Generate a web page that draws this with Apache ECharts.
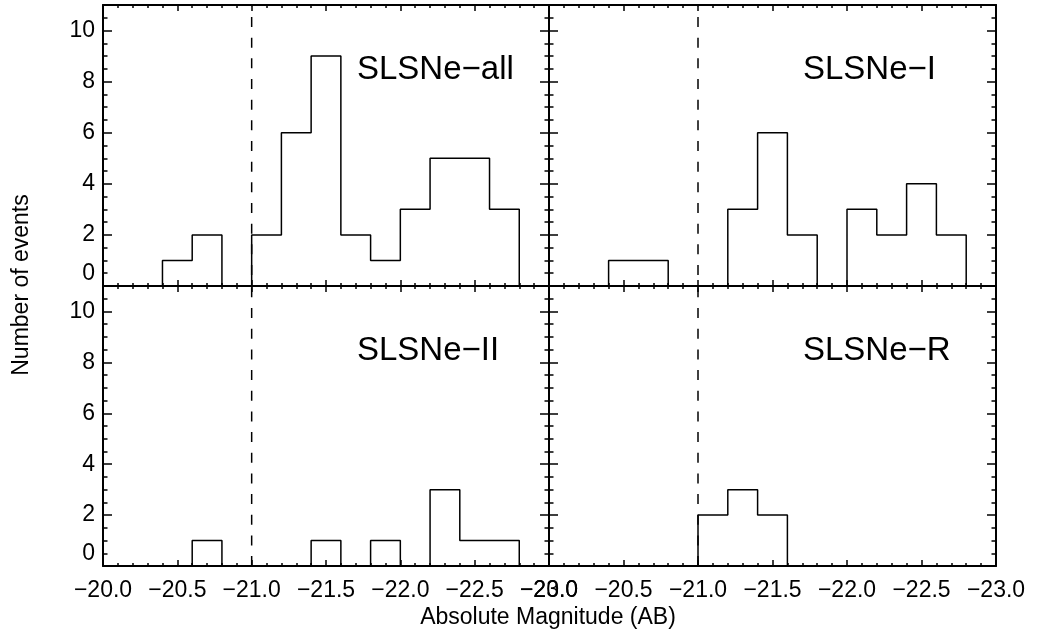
<!DOCTYPE html>
<html><head><meta charset="utf-8">
<script src="https://cdn.jsdelivr.net/npm/echarts@6/dist/echarts.min.js"></script>
<style>html,body{margin:0;padding:0;background:#fff}#c{width:1037px;height:633px}</style>
</head><body><div id="c"></div>
<script>
// ---- data ----
const binEdges = [-20.0,-20.2,-20.4,-20.6,-20.8,-21.0,-21.2,-21.4,-21.6,-21.8,-22.0,-22.2,-22.4,-22.6,-22.8,-23.0];
const countsAll = [0,0,1,2,0,2,6,9,2,1,3,5,5,3,0];
const countsI   = [0,0,1,1,0,0,3,6,2,0,3,2,4,2,0];
const countsII  = [0,0,0,1,0,0,0,1,0,1,0,3,1,1,0];
const countsR   = [0,0,0,0,0,2,3,2,0,0,0,0,0,0,0];
const panelNames = ['SLSNe\u2212all','SLSNe\u2212I','SLSNe\u2212II','SLSNe\u2212R'];
const xTickLabels = [-20.0,-20.5,-21.0,-21.5,-22.0,-22.5,-23.0];
const yTickLabels = [0,2,4,6,8,10];
const cutMag = -21.0;
const xTitle = 'Absolute Magnitude (AB)';
const yTitle = 'Number of events';

// ---- layout ----
const FONT = "'Liberation Sans', Arial, Helvetica, sans-serif";
const panelCounts = [countsAll, countsI, countsII, countsR];
const grids = [
  {left:103, top:5,   width:446, height:281},
  {left:549, top:5,   width:447, height:281},
  {left:103, top:286, width:446, height:280},
  {left:549, top:286, width:447, height:280}
];
const BLACK = '#000';

function fmtX(v){ return (v < 0 ? '\u2212' : '') + Math.abs(v).toFixed(1); }

function xAx(g, pos, showLabel){
  return {
    type:'value', gridIndex:g, position:pos, min:-23, max:-20, inverse:true, interval:0.5,
    axisLine:{show:true, onZero:false, lineStyle:{color:BLACK, width:2}},
    axisTick:{show:true, inside:true, length:6, lineStyle:{color:BLACK, width:1.5}},
    minorTick:{show:true, splitNumber:5, length:3, lineStyle:{color:BLACK, width:1.5}},
    splitLine:{show:false}, minorSplitLine:{show:false},
    axisLabel:{show:showLabel, customValues:xTickLabels, margin:13, color:BLACK, fontSize:23, fontFamily:FONT, formatter:fmtX}
  };
}
function yAx(g, pos, showLabel){
  return {
    type:'value', gridIndex:g, position:pos, min:0, max:11, interval:2,
    axisLine:{show:true, onZero:false, lineStyle:{color:BLACK, width:2}},
    axisTick:{show:true, inside:true, length:9, lineStyle:{color:BLACK, width:1.5}},
    minorTick:{show:true, splitNumber:4, length:4.5, lineStyle:{color:BLACK, width:1.5}},
    splitLine:{show:false}, minorSplitLine:{show:false},
    axisLabel:{show:showLabel, customValues:yTickLabels, margin:8, color:BLACK, fontSize:23, fontFamily:FONT,
      formatter: v => v === 0 ? '{z|0}' : String(v),
      rich:{ z:{ padding:[0,0,25,0], fontSize:23, fontFamily:FONT, color:BLACK } }
    }
  };
}

function outline(counts){
  const pts = [];
  counts.forEach((c, i) => { pts.push([binEdges[i], c]); pts.push([binEdges[i+1], c]); });
  return pts;
}

const xAxes = [], yAxes = [], series = [], graphics = [];
grids.forEach((gr, g) => {
  const isBottom = g >= 2, isLeft = g % 2 === 0;
  xAxes.push(xAx(g, 'bottom', isBottom));
  xAxes.push(xAx(g, 'top', false));
  yAxes.push(yAx(g, 'left', isLeft));
  yAxes.push(yAx(g, 'right', false));
  series.push({
    type:'line', xAxisIndex:2*g, yAxisIndex:2*g, data:outline(panelCounts[g]),
    symbol:'none', showSymbol:false, lineStyle:{color:BLACK, width:1.5}, animation:false, z:3, silent:true
  });
  series.push({
    type:'line', xAxisIndex:2*g, yAxisIndex:2*g, data:[[cutMag, 11],[cutMag, 0]],
    symbol:'none', showSymbol:false,
    lineStyle:{color:BLACK, width:1.5, type:[10,10.67], dashOffset: g < 2 ? 8.7 : 19.3},
    animation:false, z:2, silent:true
  });
  graphics.push({
    type:'text', x: gr.left + 254, y: gr.top + 65, silent:true,
    style:{ text: panelNames[g], font: '33px ' + FONT, fill: BLACK, align:'left', verticalAlign:'middle' }
  });
});
graphics.push({ type:'text', x:548, y:618, silent:true,
  style:{ text:xTitle, font:'23px ' + FONT, fill:BLACK, align:'center', verticalAlign:'middle' } });
graphics.push({ type:'text', x:22, y:285, rotation:Math.PI/2, silent:true,
  style:{ text:yTitle, font:'23px ' + FONT, fill:BLACK, align:'center', verticalAlign:'middle' } });

const chart = echarts.init(document.getElementById('c'), null, {renderer:'canvas'});
chart.setOption({
  backgroundColor:'#fff',
  animation:false,
  grid: grids.map(g => Object.assign({outerBoundsMode:'none', containLabel:false}, g)),
  xAxis: xAxes,
  yAxis: yAxes,
  series: series,
  graphic: graphics
});
</script>
</body></html>
